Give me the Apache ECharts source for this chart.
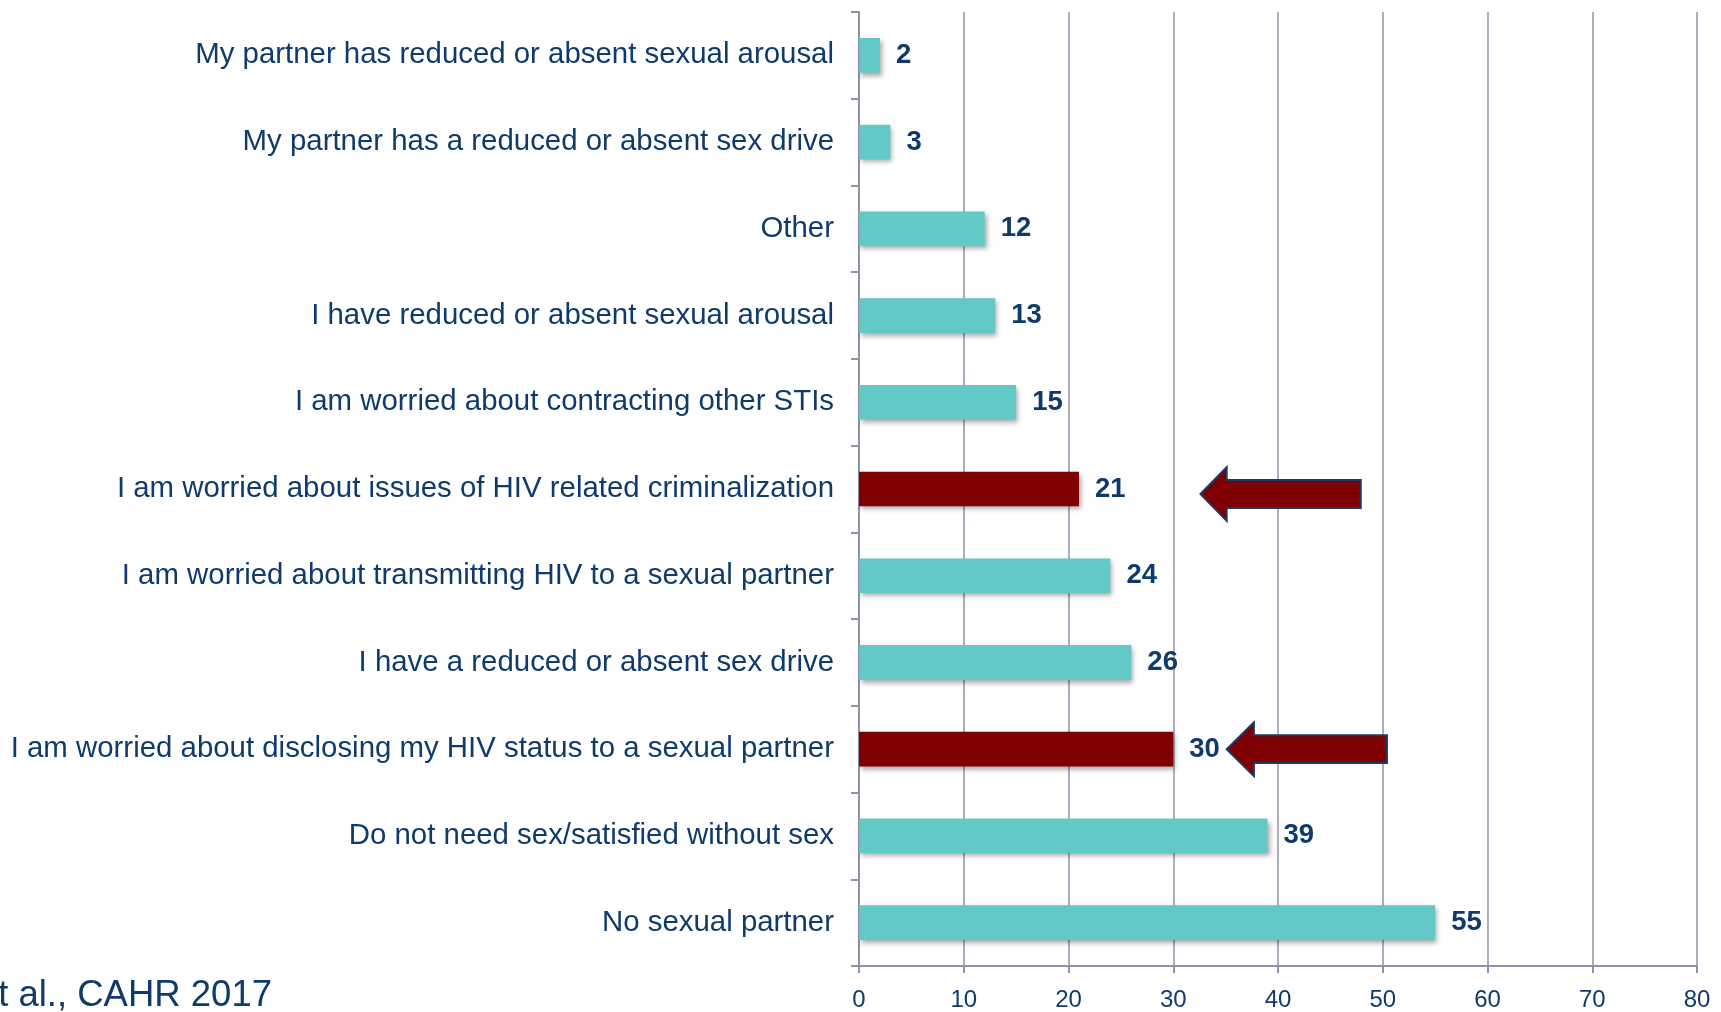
<!DOCTYPE html>
<html>
<head>
<meta charset="utf-8">
<script src="https://cdn.jsdelivr.net/npm/echarts@6/dist/echarts.min.js"></script>
<style>
  html, body { margin: 0; padding: 0; background: #fff; }
  #main { width: 1721px; height: 1012px; }
</style>
</head>
<body>
<div id="main"></div>
<script>
// categories top to bottom
const categories = [
  'My partner has reduced or absent sexual arousal',
  'My partner has a reduced or absent sex drive',
  'Other',
  'I have reduced or absent sexual arousal',
  'I am worried about contracting other STIs',
  'I am worried about issues of HIV related criminalization',
  'I am worried about transmitting HIV to a sexual partner',
  'I have a reduced or absent sex drive',
  'I am worried about disclosing my HIV status to a sexual partner',
  'Do not need sex/satisfied without sex',
  'No sexual partner'
];
const values = [2, 3, 12, 13, 15, 21, 24, 26, 30, 39, 55];
// which bars are highlighted (dark red)
const highlighted = [5, 8];
// arrows: [tip, head base, tail, category index]
const arrows = [
  [32.6, 35.1, 47.9, 5],
  [35.1, 37.7, 50.4, 8]
];
const citation = 'Kennedy et al., CAHR 2017';

const navy = '#0F3B6C';
const teal = '#63C9C7';
const darkRed = '#7F0000';
const gridGray = '#8F93A8';
const font = '"Liberation Sans", Arial, sans-serif';

const chart = echarts.init(document.getElementById('main'));

const option = {
  animation: false,
  grid: { left: 859, right: 24, top: 12, bottom: 44 },
  xAxis: {
    type: 'value',
    min: 0,
    max: 80,
    interval: 10,
    axisLine: { show: true, lineStyle: { color: gridGray, width: 2 } },
    axisTick: { show: true, length: 7, lineStyle: { color: gridGray, width: 2 } },
    splitLine: { show: true, lineStyle: { color: gridGray, width: 1.5 } },
    axisLabel: { color: navy, fontSize: 24, fontFamily: font, margin: 22 }
  },
  yAxis: {
    type: 'category',
    inverse: true,
    data: categories,
    axisLine: { show: true, lineStyle: { color: gridGray, width: 2 } },
    axisTick: { show: true, length: 8, lineStyle: { color: gridGray, width: 2 } },
    axisLabel: { color: navy, fontSize: 29.4, fontFamily: font, margin: 25 }
  },
  series: [
    {
      type: 'bar',
      barWidth: '40%',
      z: 3,
      data: values.map((v, i) => ({
        value: v,
        itemStyle: { color: highlighted.includes(i) ? darkRed : teal }
      })),
      itemStyle: {
        shadowColor: 'rgba(0,0,0,0.35)',
        shadowBlur: 5,
        shadowOffsetX: 2,
        shadowOffsetY: 3
      },
      label: {
        show: true,
        position: 'right',
        distance: 16,
        color: navy,
        fontSize: 27.5,
        fontWeight: 'bold',
        fontFamily: font
      }
    },
    {
      type: 'custom',
      z: 4,
      data: arrows,
      encode: { x: [0, 1, 2], y: 3 },
      renderItem: function (params, api) {
        const cat = api.value(3);
        const tip = api.coord([api.value(0), cat]);
        const base = api.coord([api.value(1), cat]);
        const tail = api.coord([api.value(2), cat]);
        const band = api.size([0, 1])[1];
        const bh = band * 0.16;
        const hh = band * 0.31;
        const y = tip[1] + (cat === 5 ? 5 : 0);
        return {
          type: 'polygon',
          shape: {
            points: [
              [tip[0], y],
              [base[0], y - hh],
              [base[0], y - bh],
              [tail[0], y - bh],
              [tail[0], y + bh],
              [base[0], y + bh],
              [base[0], y + hh]
            ]
          },
          style: { fill: darkRed, stroke: '#1F3864', lineWidth: 2 }
        };
      }
    }
  ],
  graphic: [
    {
      type: 'text',
      x: 272,
      y: 1014,
      style: {
        text: citation,
        fill: navy,
        font: '36.5px ' + font,
        textAlign: 'right',
        textVerticalAlign: 'bottom'
      }
    }
  ]
};

chart.setOption(option);
</script>
</body>
</html>
